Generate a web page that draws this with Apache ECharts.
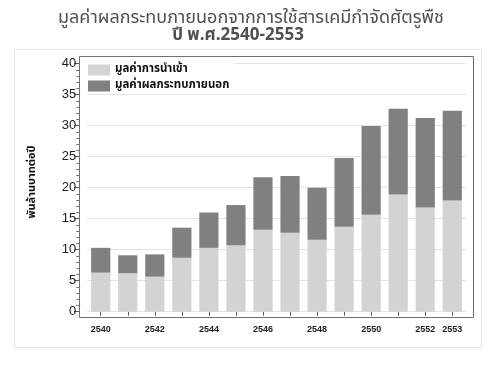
<!DOCTYPE html>
<html><head><meta charset="utf-8">
<script src="https://cdn.jsdelivr.net/npm/echarts@6/dist/echarts.min.js"></script>
<style>html,body{margin:0;padding:0;background:#fff}#c{width:500px;height:384px}</style>
</head><body><div id="c"></div>
<script>
const years = ['2540','2541','2542','2543','2544','2545','2546','2547','2548','2549','2550','2551','2552','2553'];
const importValue = [6.3, 6.2, 5.65, 8.7, 10.3, 10.7, 13.2, 12.75, 11.6, 13.7, 15.65, 18.9, 16.8, 17.95];
const externalCost = [4.0, 2.9, 3.6, 4.85, 5.7, 6.5, 8.5, 9.15, 8.4, 11.1, 14.3, 13.85, 14.45, 14.45];
const shownYearLabels = ['2540','2542','2544','2546','2548','2550','2552','2553'];
const seriesNames = ['มูลค่าการนำเข้า', 'มูลค่าผลกระทบภายนอก'];
const titleLine1 = 'มูลค่าผลกระทบภายนอกจากการใช้สารเคมีกำจัดศัตรูพืช';
const titleLine2 = 'ปี พ.ศ.2540-2553';
const yTitle = 'พันล้านบาทต่อปี';

const FONT = '"Noto Sans Thai","Noto Sans","DejaVu Sans",Arial,sans-serif';
const chart = echarts.init(document.getElementById('c'), null, {renderer:'canvas'});
chart.setOption({
  animation:false,
  backgroundColor:'#fff',
  graphic:[
    {type:'text', x:251, y:19,
      style:{text:titleLine1, font:'normal 18px '+FONT, fill:'#505050', textAlign:'center', textVerticalAlign:'middle'}},
    {type:'text', x:238, y:37,
      style:{text:titleLine2, font:'bold 17px '+FONT, fill:'#505050', textAlign:'center', textVerticalAlign:'middle'}},
    {type:'rect', shape:{x:14.5, y:49.5, width:467, height:298}, style:{fill:'none', stroke:'#e3e7ec', lineWidth:1}, z:-1},
    {type:'rect', shape:{x:79.5, y:56.5, width:394, height:261}, style:{fill:'none', stroke:'#707070', lineWidth:1}, z:10},
    {type:'text', x:33, y:182, rotation:Math.PI/2,
      style:{text:yTitle, font:'bold 11px '+FONT, fill:'#111', textAlign:'center', textVerticalAlign:'middle'}}
  ],
  legend:{
    orient:'vertical', left:84, top:62, itemWidth:22, itemHeight:11, itemGap:4,
    backgroundColor:'#fff', padding:[2,4,2,4],
    icon:'rect',
    textStyle:{fontFamily:FONT, fontSize:11.5, fontWeight:'bold', color:'#111'},
    data:seriesNames
  },
  grid:{left:87.2, right:34.2, top:63.7, bottom:72.3, containLabel:false},
  xAxis:{
    type:'category', data:years, offset:5.5,
    axisLine:{show:false},
    axisTick:{show:true, alignWithLabel:true, length:4, lineStyle:{color:'#555'}},
    axisLabel:{
      interval:0, margin:8,
      formatter:(v)=> shownYearLabels.includes(v) ? v : '',
      fontFamily:'Arial, "Liberation Sans", sans-serif', fontSize:9, fontWeight:'bold', color:'#222'
    }
  },
  yAxis:{
    type:'value', min:0, max:40, interval:5, offset:8,
    axisLine:{show:false},
    axisTick:{show:true, length:5, lineStyle:{color:'#555'}},
    minorTick:{show:true, splitNumber:5, length:3, lineStyle:{color:'#777'}},
    axisLabel:{fontFamily:'Arial, "Liberation Sans", sans-serif', fontSize:13, color:'#222', margin:3},
    splitLine:{show:true, lineStyle:{color:'#e4e4e4', width:1}}
  },
  series:[
    {name:seriesNames[0], type:'bar', stack:'a', data:importValue, barWidth:'71%', itemStyle:{color:'#d3d3d3'}},
    {name:seriesNames[1], type:'bar', stack:'a', data:externalCost, barWidth:'71%', itemStyle:{color:'#808080'}}
  ]
});
</script></body></html>
